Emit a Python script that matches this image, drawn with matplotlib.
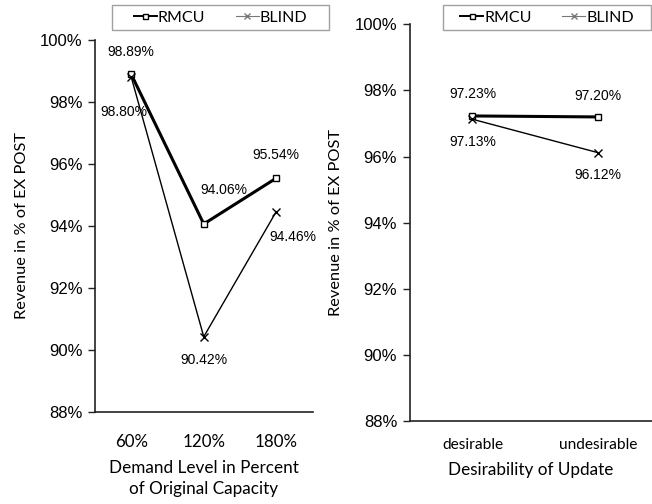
import matplotlib
matplotlib.use("Agg")
import matplotlib.pyplot as plt
from matplotlib.ticker import FuncFormatter

W, H = 652, 504

demand_levels = ["60%", "120%", "180%"]
rmcu_demand = [98.89, 94.06, 95.54]
blind_demand = [98.80, 90.42, 94.46]

desirability = ["desirable", "undesirable"]
rmcu_desir = [97.23, 97.20]
blind_desir = [97.13, 96.12]

yticks = [88, 90, 92, 94, 96, 98, 100]

fig = plt.figure(figsize=(W / 100, H / 100), dpi=100)

def px_axes(x0, y0, x1, y1):
    return fig.add_axes([x0 / W, 1 - y1 / H, (x1 - x0) / W, (y1 - y0) / H])

ax1 = px_axes(95, 40, 312.5, 411.7)
ax2 = px_axes(409.7, 24.3, 652, 421.3)

tick_font = "Liberation Sans"
label_font = "Lato"
pct = FuncFormatter(lambda v, p: f"{v:.0f}%")

def style(ax):
    ax.set_ylim(88, 100)
    ax.set_yticks(yticks)
    ax.yaxis.set_major_formatter(pct)
    for s in ["top", "right"]:
        ax.spines[s].set_visible(False)
    for s in ["left", "bottom"]:
        ax.spines[s].set_linewidth(1.2)
        ax.spines[s].set_color("#222222")
    ax.tick_params(axis="y", length=5, width=1.0, labelsize=12, pad=4, color="#222222")
    ax.tick_params(axis="x", length=0)
    for lab in ax.get_yticklabels():
        lab.set_fontfamily(tick_font)
    ax.set_ylabel("Revenue in % of EX POST", fontfamily=label_font, fontsize=11.8, labelpad=8)

def plot_series(ax, x, r, b):
    ax.plot(x, r, color="black", lw=2.2, marker="s", ms=4.5, mfc="white",
            mec="black", mew=1.0, label="RMCU", zorder=3)
    ax.plot(x, b, color="black", lw=1.0, marker="x", ms=5.5, mew=1.0,
            label="BLIND", zorder=4)

# Left panel
x1 = list(range(len(demand_levels)))
plot_series(ax1, x1, rmcu_demand, blind_demand)
style(ax1)
ax1.set_xlim(-0.5, 2.5)
ax1.set_xticks(x1)
ax1.set_xticklabels(demand_levels, fontfamily=label_font, fontsize=12.2)
ax1.tick_params(axis="x", pad=16)
ax1.set_xlabel("Demand Level in Percent\nof Original Capacity", fontfamily=label_font,
               fontsize=12.3, labelpad=7, linespacing=1.4)

lbl_kw = dict(textcoords="offset pixels", ha="center", va="center",
              fontfamily=tick_font, fontsize=10)
offs1_r = [(0, 22), (20, 34), (0, 23)]
offs1_b = [(-7, -35), (0, -23), (17, -25)]
for i in range(3):
    ax1.annotate(f"{rmcu_demand[i]:.2f}%", (x1[i], rmcu_demand[i]), xytext=offs1_r[i], **lbl_kw)
    ax1.annotate(f"{blind_demand[i]:.2f}%", (x1[i], blind_demand[i]), xytext=offs1_b[i], **lbl_kw)

# Right panel
x2 = list(range(len(desirability)))
plot_series(ax2, x2, rmcu_desir, blind_desir)
style(ax2)
ax2.set_xlim(-0.5, 1.43)
ax2.set_xticks(x2)
ax2.set_xticklabels(desirability, fontfamily=label_font, fontsize=11.2)
ax2.tick_params(axis="x", pad=12)
ax2.set_xlabel("Desirability of Update", fontfamily=label_font, fontsize=12.3, labelpad=7)
offs2_r = [(0, 22), (0, 21)]
offs2_b = [(0, -23), (0, -22)]
for i in range(2):
    ax2.annotate(f"{rmcu_desir[i]:.2f}%", (x2[i], rmcu_desir[i]), xytext=offs2_r[i], **lbl_kw)
    ax2.annotate(f"{blind_desir[i]:.2f}%", (x2[i], blind_desir[i]), xytext=offs2_b[i], **lbl_kw)

def add_legend(ax, x0, x1_, y0, y1):
    h, l = ax.get_legend_handles_labels()
    leg = fig.legend(h, l, loc="center", ncol=2,
                     bbox_to_anchor=(x0 / W, 1 - y1 / H, (x1_ - x0) / W, (y1 - y0) / H),
                     frameon=False,
                     prop={"family": label_font, "size": 11.5},
                     handlelength=1.45, handletextpad=0.05, columnspacing=1.9,
                     borderpad=0.2, borderaxespad=0, markerscale=0.8)
    leg.get_lines()[0].set_linewidth(1.4)
    leg.get_lines()[1].set_color("#777777")
    leg.get_lines()[1].set_linewidth(0.8)
    rect = plt.Rectangle((x0 / W, 1 - y1 / H), (x1_ - x0) / W, (y1 - y0) / H,
                         transform=fig.transFigure, fill=False, edgecolor="#a0a0a0", lw=1.0)
    fig.add_artist(rect)

add_legend(ax1, 112, 329, 5, 30)
add_legend(ax2, 443, 651, 5, 30)

fig.savefig("out.png", dpi=100)
